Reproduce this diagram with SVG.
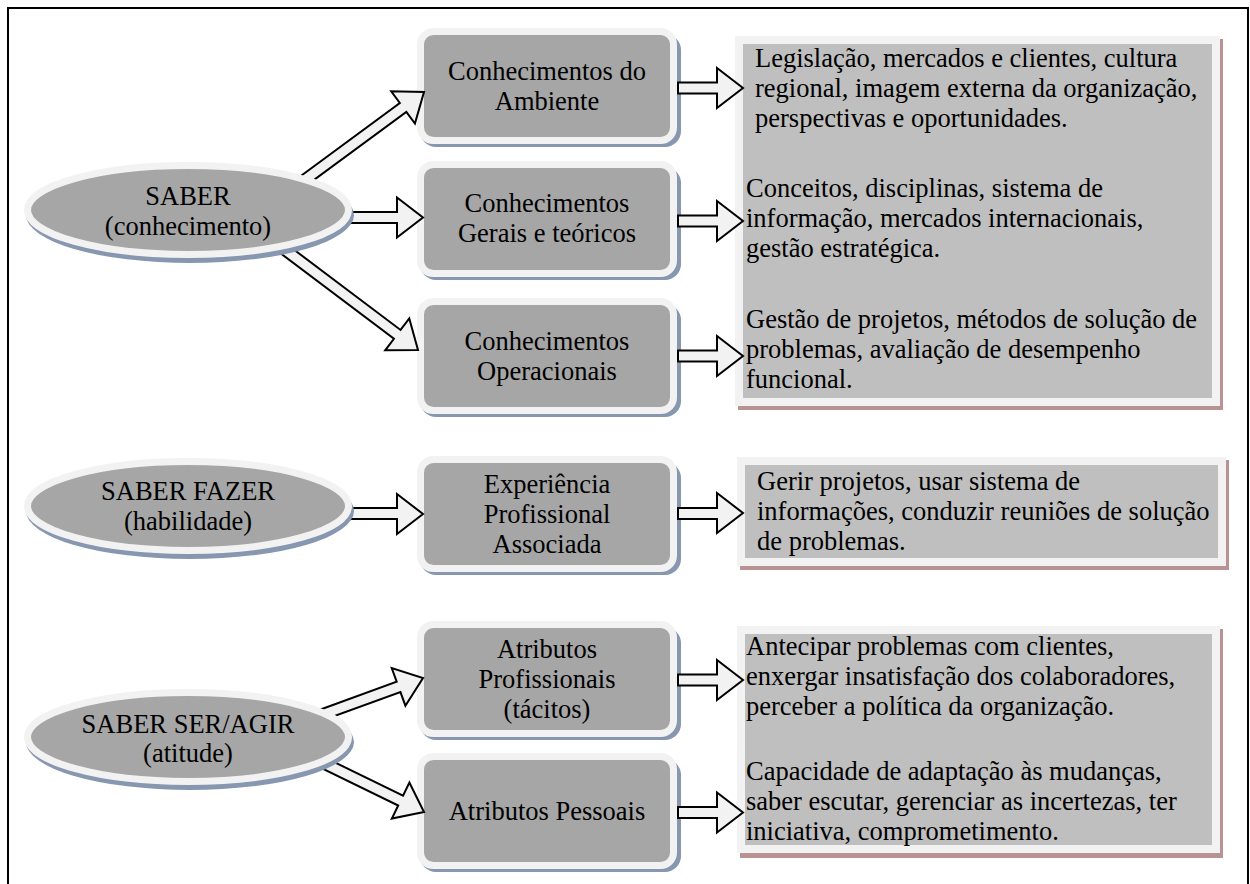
<svg xmlns="http://www.w3.org/2000/svg" width="1250" height="884" viewBox="0 0 1250 884">
<style>
text{font-family:'Liberation Serif','DejaVu Serif',serif;font-size:26.5px;fill:#000}
.c{text-anchor:middle}
.bx{fill:#a6a6a6;stroke:#f2f2f2;stroke-width:7}
.bsh{fill:#8797b0}
.el{fill:#a6a6a6;stroke:#f2f2f2;stroke-width:7}
.tb{fill:#bfbfbf;stroke:#f2f2f2;stroke-width:8}
.tsh{fill:#b99393}
.arr{fill:#f2f2f2;stroke:#000;stroke-width:2;stroke-linejoin:miter}
</style>
<rect x="8" y="8" width="1240" height="900" fill="#fff" stroke="#000" stroke-width="2"/>

<g id="txt-ambiente" font-family="Liberation Serif, serif">
<rect class="tsh" x="738" y="39" width="485" height="371"/>
<rect class="tb" x="739" y="40" width="477" height="362"/>
<text x="755" y="67">Legislação, mercados e clientes, cultura</text>
<text x="755" y="97">regional, imagem externa da organização,</text>
<text x="755" y="127">perspectivas e oportunidades.</text>
<text x="746" y="197">Conceitos, disciplinas, sistema de</text>
<text x="746" y="227">informação, mercados internacionais,</text>
<text x="746" y="257">gestão estratégica.</text>
<text x="746" y="328">Gestão de projetos, métodos de solução de</text>
<text x="746" y="358">problemas, avaliação de desempenho</text>
<text x="746" y="388">funcional.</text>
</g>
<g id="txt-fazer">
<rect class="tsh" x="740" y="460" width="489" height="110"/>
<rect class="tb" x="741" y="461" width="481" height="101"/>
<text x="757" y="490">Gerir projetos, usar sistema de</text>
<text x="757" y="520">informações, conduzir reuniões de solução</text>
<text x="757" y="550">de problemas.</text>
</g>
<g id="txt-atitude">
<rect class="tsh" x="740" y="629" width="483" height="229"/>
<rect class="tb" x="741" y="630" width="475" height="219"/>
<text x="746" y="655">Antecipar problemas com clientes,</text>
<text x="746" y="685">enxergar insatisfação dos colaboradores,</text>
<text x="746" y="715">perceber a política da organização.</text>
<text x="746" y="780">Capacidade de adaptação às mudanças,</text>
<text x="746" y="810">saber escutar, gerenciar as incertezas, ter</text>
<text x="746" y="840">iniciativa, comprometimento.</text>
</g>

<g id="box-ambiente">
<rect class="bsh" x="420" y="34" width="261" height="113" rx="16"/>
<rect class="bx" x="420.5" y="31.5" width="253" height="109" rx="13"/>
<text class="c" x="547" y="80">Conhecimentos do</text>
<text class="c" x="547" y="110">Ambiente</text>
</g>
<g id="box-gerais">
<rect class="bsh" x="420" y="167" width="261" height="113" rx="16"/>
<rect class="bx" x="420.5" y="164.5" width="253" height="109" rx="13"/>
<text class="c" x="547" y="212">Conhecimentos</text>
<text class="c" x="547" y="242">Gerais e teóricos</text>
</g>
<g id="box-operacionais">
<rect class="bsh" x="420" y="304" width="261" height="113" rx="16"/>
<rect class="bx" x="420.5" y="301.5" width="253" height="109" rx="13"/>
<text class="c" x="547" y="350">Conhecimentos</text>
<text class="c" x="547" y="380">Operacionais</text>
</g>
<g id="box-experiencia">
<rect class="bsh" x="420" y="462" width="261" height="113" rx="16"/>
<rect class="bx" x="420.5" y="459.5" width="253" height="109" rx="13"/>
<text class="c" x="547" y="493">Experiência</text>
<text class="c" x="547" y="523">Profissional</text>
<text class="c" x="547" y="553">Associada</text>
</g>
<g id="box-profissionais">
<rect class="bsh" x="420" y="627" width="261" height="113" rx="16"/>
<rect class="bx" x="420.5" y="624.5" width="253" height="109" rx="13"/>
<text class="c" x="547" y="658">Atributos</text>
<text class="c" x="547" y="688">Profissionais</text>
<text class="c" x="547" y="718">(tácitos)</text>
</g>
<g id="box-pessoais">
<rect class="bsh" x="420" y="759" width="261" height="113" rx="16"/>
<rect class="bx" x="420.5" y="756.5" width="253" height="109" rx="13"/>
<text class="c" x="547" y="820">Atributos Pessoais</text>
</g>

<g id="connectors">
<polygon class="arr" transform="translate(424,92) rotate(-36.4)" points="-160,-5.5 -26,-5.5 -26,-20 0,0 -26,20 -26,5.5 -160,5.5"/>
<polygon class="arr" points="340,212 397,212 397,197.5 423,217.5 397,237.5 397,223 340,223"/>
<polygon class="arr" transform="translate(418,350) rotate(37)" points="-190,-5.5 -26,-5.5 -26,-20 0,0 -26,20 -26,5.5 -190,5.5"/>
<polygon class="arr" points="340,508 397,508 397,494 423,514 397,534 397,519 340,519"/>
<polygon class="arr" transform="translate(423,678) rotate(-20)" points="-110,-5.5 -26,-5.5 -26,-20 0,0 -26,20 -26,5.5 -110,5.5"/>
<polygon class="arr" transform="translate(424,812) rotate(26)" points="-130,-5.5 -26,-5.5 -26,-20 0,0 -26,20 -26,5.5 -130,5.5"/>
<polygon class="arr" points="678,82.5 717,82.5 717,68 743,88 717,108 717,93.5 678,93.5"/>
<polygon class="arr" points="678,215.5 717,215.5 717,201 743,221 717,241 717,226.5 678,226.5"/>
<polygon class="arr" points="678,350.5 717,350.5 717,336 743,356 717,376 717,361.5 678,361.5"/>
<polygon class="arr" points="678,508 717,508 717,493 743,513 717,533 717,519 678,519"/>
<polygon class="arr" points="678,674.5 717,674.5 717,660 743,680 717,700 717,685.5 678,685.5"/>
<polygon class="arr" points="678,807 717,807 717,792.5 743,812.5 717,832.5 717,818 678,818"/>
</g>

<g id="saber">
<ellipse class="bsh" cx="190" cy="215" rx="164" ry="48"/>
<ellipse class="el" cx="188" cy="210" rx="160.5" ry="44.5"/>
<text class="c" x="188" y="205">SABER</text>
<text class="c" x="188" y="235">(conhecimento)</text>
</g>
<g id="saber-fazer">
<ellipse class="bsh" cx="190" cy="511" rx="164" ry="48"/>
<ellipse class="el" cx="188" cy="506" rx="160.5" ry="44.5"/>
<text class="c" x="188" y="500">SABER FAZER</text>
<text class="c" x="188" y="530">(habilidade)</text>
</g>
<g id="saber-ser">
<ellipse class="bsh" cx="190" cy="742" rx="164" ry="48"/>
<ellipse class="el" cx="188" cy="737" rx="160.5" ry="44.5"/>
<text class="c" x="188" y="733">SABER SER/AGIR</text>
<text class="c" x="188" y="762">(atitude)</text>
</g>
</svg>
